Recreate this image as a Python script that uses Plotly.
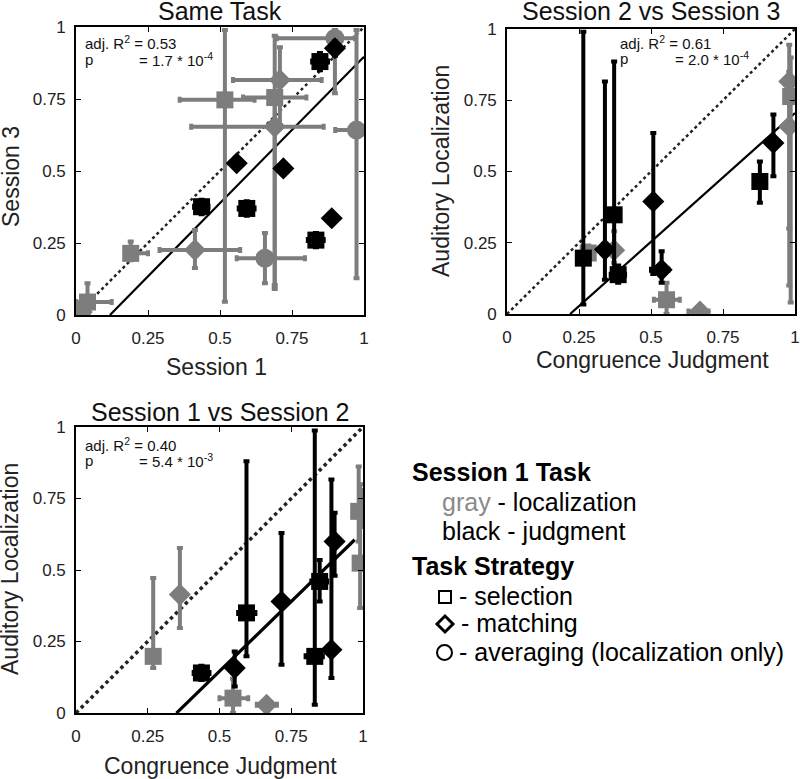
import plotly.graph_objects as go

W, H = 800, 779
GRAY = "#7d7d7d"
BLACK = "#000000"

# ---------------- Panel 1: Same Task (x = Session 1, y = Session 3) ----------------
p1_gray_sym = ["circle", "diamond", "square", "square", "diamond", "square", "square", "diamond", "diamond", "circle", "circle", "circle"]
p1_gray_x   = [0.00, 0.02, 0.04, 0.19, 0.413, 0.517, 0.69, 0.708, 0.69, 0.899, 0.974, 0.656]
p1_gray_y   = [0.01, 0.01, 0.045, 0.214, 0.226, 0.747, 0.755, 0.816, 0.654, 0.961, 0.642, 0.197]
p1_gray_xlo = [0.00, 0.02, 0.00, 0.17, 0.29, 0.36, 0.58, 0.545, 0.40, 0.697, 0.90, 0.558]
p1_gray_xhi = [0.00, 0.02, 0.124, 0.25, 0.57, 0.62, 0.80, 0.853, 0.86, 0.969, 1.00, 0.795]
p1_gray_ylo = [0.01, 0.01, 0.00, 0.19, 0.163, 0.046, 0.104, 0.66, 0.09, 0.77, 0.128, 0.11]
p1_gray_yhi = [0.01, 0.01, 0.11, 0.255, 0.295, 0.99, 0.97, 0.93, 0.76, 0.99, 0.99, 0.285]

p1_black_sym = ["square", "diamond", "diamond", "diamond", "square", "square", "diamond", "square"]
p1_black_x   = [0.847, 0.899, 0.558, 0.72, 0.436, 0.593, 0.888, 0.833]
p1_black_y   = [0.88, 0.926, 0.527, 0.509, 0.376, 0.37, 0.336, 0.26]
p1_black_xlo = [0.82, 0.899, 0.558, 0.72, 0.41, 0.565, 0.888, 0.805]
p1_black_xhi = [0.875, 0.899, 0.558, 0.72, 0.46, 0.62, 0.888, 0.86]
p1_black_ylo = [0.85, 0.90, 0.527, 0.509, 0.35, 0.345, 0.336, 0.235]
p1_black_yhi = [0.91, 0.95, 0.527, 0.509, 0.40, 0.395, 0.336, 0.285]

# ---------------- Panel 2: Session 2 vs Session 3 ----------------
p2_gray_sym = ["square", "diamond", "square", "diamond", "diamond", "square", "diamond"]
p2_gray_x   = [0.282, 0.372, 0.554, 0.67, 0.98, 0.985, 0.98]
p2_gray_y   = [0.214, 0.224, 0.05, 0.009, 0.816, 0.763, 0.658]
p2_gray_xlo = [0.282, 0.372, 0.51, 0.63, 0.98, 0.985, 0.98]
p2_gray_xhi = [0.282, 0.372, 0.60, 0.70, 0.98, 0.985, 0.98]
p2_gray_ylo = [0.19, 0.18, 0.00, 0.00, 0.10, 0.04, 0.30]
p2_gray_yhi = [0.24, 0.29, 0.11, 0.02, 0.945, 0.90, 0.85]

p2_black_sym = ["square", "diamond", "square", "square", "diamond", "diamond", "square", "diamond"]
p2_black_x   = [0.265, 0.34, 0.372, 0.386, 0.508, 0.537, 0.878, 0.925]
p2_black_y   = [0.196, 0.226, 0.348, 0.138, 0.395, 0.155, 0.465, 0.60]
p2_black_xlo = [0.265, 0.34, 0.372, 0.36, 0.508, 0.50, 0.878, 0.925]
p2_black_xhi = [0.265, 0.34, 0.372, 0.41, 0.508, 0.56, 0.878, 0.925]
p2_black_ylo = [0.033, 0.12, 0.14, 0.11, 0.14, 0.11, 0.39, 0.483]
p2_black_yhi = [0.99, 0.816, 0.886, 0.17, 0.635, 0.22, 0.535, 0.70]

# ---------------- Panel 3: Session 1 vs Session 2 ----------------
p3_gray_sym = ["square", "diamond", "square", "diamond", "square", "diamond", "square"]
p3_gray_x   = [0.269, 0.362, 0.547, 0.664, 0.985, 0.995, 0.99]
p3_gray_y   = [0.198, 0.414, 0.052, 0.029, 0.705, 0.705, 0.524]
p3_gray_xlo = [0.269, 0.362, 0.50, 0.63, 0.985, 0.995, 0.99]
p3_gray_xhi = [0.269, 0.362, 0.60, 0.70, 0.985, 0.995, 0.99]
p3_gray_ylo = [0.157, 0.297, 0.00, 0.00, 0.60, 0.65, 0.367]
p3_gray_yhi = [0.472, 0.577, 0.12, 0.04, 0.862, 0.78, 0.80]

p3_black_sym = ["square", "diamond", "square", "diamond", "square", "square", "diamond", "diamond"]
p3_black_x   = [0.437, 0.553, 0.594, 0.716, 0.832, 0.849, 0.89, 0.901]
p3_black_y   = [0.14, 0.157, 0.35, 0.39, 0.198, 0.46, 0.221, 0.60]
p3_black_xlo = [0.41, 0.553, 0.565, 0.716, 0.80, 0.82, 0.89, 0.901]
p3_black_xhi = [0.465, 0.553, 0.625, 0.716, 0.86, 0.875, 0.89, 0.901]
p3_black_ylo = [0.115, 0.093, 0.198, 0.169, 0.029, 0.39, 0.122, 0.48]
p3_black_yhi = [0.165, 0.215, 0.88, 0.629, 0.988, 0.535, 0.816, 0.70]

# regression fits: slope, intercept, x-start, x-end
fit_slope = [1.017, 0.903, 0.976]
fit_intercept = [-0.120, -0.198, -0.342]
fit_xrange = [(0.118, 1.0), (0.219, 1.0), (0.35, 0.971)]

stats_r2 = ["0.53", "0.61", "0.40"]
stats_p = ["1.7 * 10<sup>-4</sup>", "2.0 * 10<sup>-4</sup>", "5.4 * 10<sup>-3</sup>"]
panel_titles = ["Same Task", "Session 2 vs Session 3", "Session 1 vs Session 2"]
x_titles = ["Session 1", "Congruence Judgment", "Congruence Judgment"]
y_titles = ["Session 3", "Auditory Localization", "Auditory Localization"]
tick_vals = [0, 0.25, 0.5, 0.75, 1]
tick_text = ["0", "0.25", "0.5", "0.75", "1"]

# ---------------- layout geometry (pixels) ----------------
boxes = [(76, 364, 27, 315), (507, 795, 29, 314), (76, 363, 427, 713)]  # x0, x1, ytop, ybottom


def fx(px):
    return px / W


def fy(py):
    return 1 - py / H


fig = go.Figure()
axes = [("x", "y"), ("x2", "y2"), ("x3", "y3")]
line_w = [(2.5, 2.2), (2.5, 2.2), (3.5, 3.2)]

for i, (xa, ya) in enumerate(axes):
    # identity line
    fig.add_trace(go.Scatter(x=[0, 1], y=[0, 1], mode="lines", xaxis=xa, yaxis=ya,
                             line=dict(color="#222", width=line_w[i][0], dash="dot"),
                             showlegend=False, hoverinfo="skip"))
    xs = list(fit_xrange[i])
    ys = [fit_slope[i] * v + fit_intercept[i] for v in xs]
    fig.add_trace(go.Scatter(x=xs, y=ys, mode="lines", xaxis=xa, yaxis=ya,
                             line=dict(color="#000", width=line_w[i][1]),
                             showlegend=False, hoverinfo="skip"))

panels = [
    [(p1_gray_sym, p1_gray_x, p1_gray_y, p1_gray_xlo, p1_gray_xhi, p1_gray_ylo, p1_gray_yhi, GRAY),
     (p1_black_sym, p1_black_x, p1_black_y, p1_black_xlo, p1_black_xhi, p1_black_ylo, p1_black_yhi, BLACK)],
    [(p2_gray_sym, p2_gray_x, p2_gray_y, p2_gray_xlo, p2_gray_xhi, p2_gray_ylo, p2_gray_yhi, GRAY),
     (p2_black_sym, p2_black_x, p2_black_y, p2_black_xlo, p2_black_xhi, p2_black_ylo, p2_black_yhi, BLACK)],
    [(p3_gray_sym, p3_gray_x, p3_gray_y, p3_gray_xlo, p3_gray_xhi, p3_gray_ylo, p3_gray_yhi, GRAY),
     (p3_black_sym, p3_black_x, p3_black_y, p3_black_xlo, p3_black_xhi, p3_black_ylo, p3_black_yhi, BLACK)],
]

size_for = {"square": 17, "diamond": 17, "circle": 19}

for i, (xa, ya) in enumerate(axes):
    for sym, x, y, xlo, xhi, ylo, yhi, col in panels[i]:
        fig.add_trace(go.Scatter(
            x=x, y=y, mode="markers", xaxis=xa, yaxis=ya, showlegend=False,
            marker=dict(symbol=sym, size=[size_for[s] for s in sym], color=col,
                        opacity=1, line=dict(width=0)),
            error_x=dict(type="data", symmetric=False,
                         array=[h - v for h, v in zip(xhi, x)],
                         arrayminus=[v - l for v, l in zip(x, xlo)],
                         color=col, thickness=4, width=3),
            error_y=dict(type="data", symmetric=False,
                         array=[h - v for h, v in zip(yhi, y)],
                         arrayminus=[v - l for v, l in zip(y, ylo)],
                         color=col, thickness=4, width=3),
            cliponaxis=True,
        ))

FONT = "Arial, Liberation Sans, sans-serif"
axis_common = dict(range=[0, 1], showline=True, mirror="ticks", linecolor="#000", linewidth=1.6,
                   ticks="inside", ticklen=5, tickwidth=1.2, tickcolor="#000",
                   showgrid=False, zeroline=False, tickvals=tick_vals, ticktext=tick_text,
                   tickfont=dict(family=FONT, size=17, color="#222"), fixedrange=True,
                   automargin=False, ticklabeloverflow="allow")

layout = dict(width=W, height=H, margin=dict(l=0, r=0, t=0, b=0, autoexpand=False),
              paper_bgcolor="white", plot_bgcolor="white", showlegend=False)
for i, (x0, x1, yt, yb) in enumerate(boxes):
    sfx = "" if i == 0 else str(i + 1)
    layout["xaxis" + sfx] = dict(axis_common, domain=[fx(x0), fx(x1)], anchor="y" + sfx,
                                 ticklabelstandoff=7)
    layout["yaxis" + sfx] = dict(axis_common, domain=[fy(yb), fy(yt)], anchor="x" + sfx,
                                 ticklabelstandoff=5)
fig.update_layout(**layout)

ann = []


def text(px, py, s, size, xanchor="center", angle=0, color="#111", bold=False):
    if bold:
        s = "<b>" + s + "</b>"
    ann.append(dict(x=fx(px), y=fy(py), xref="paper", yref="paper", text=s, showarrow=False,
                    xanchor=xanchor, yanchor="middle", textangle=angle,
                    font=dict(family=FONT, size=size, color=color)))


# panel titles
title_pos = [(220, 11), (651, 11), (220, 412)]
for (px, py), t in zip(title_pos, panel_titles):
    text(px, py, t, 25)

# axis titles
xt_pos = [(216, 367), (652, 360), (220, 766)]
for (px, py), t in zip(xt_pos, x_titles):
    text(px, py, t, 23, color="#222")
yt_pos = [(11, 177), (441, 171), (10, 569)]
for (px, py), t in zip(yt_pos, y_titles):
    text(px, py, t, 23, angle=-90, color="#222")

# stats text
stat_pos = [(83, 43, 137), (618, 42, 673), (83, 444, 137)]
for (px, py, peq), r2, pv in zip(stat_pos, stats_r2, stats_p):
    text(px, py, "adj. R<sup>2</sup> = " + r2, 15, xanchor="left")
    text(px, py + 16, "p", 15, xanchor="left")
    text(peq, py + 16, "= " + pv, 15, xanchor="left")

# legend-like description
text(410, 472, "Session 1 Task", 25, xanchor="left", bold=True, color="#000")
text(440, 502, "<span style='color:#8a8a8a'>gray</span> - localization", 25, xanchor="left", color="#000")
text(440, 531, "black - judgment", 25, xanchor="left", color="#000")
text(410, 566, "Task Strategy", 25, xanchor="left", bold=True, color="#000")
text(457, 596, "- selection", 25, xanchor="left", color="#000")
text(459, 623, "- matching", 25, xanchor="left", color="#000")
text(457, 652, "- averaging (localization only)", 25, xanchor="left", color="#000")

fig.update_layout(annotations=ann)

shapes = [
    dict(type="rect", xref="paper", yref="paper", x0=fx(439), x1=fx(451), y0=fy(603), y1=fy(591),
         line=dict(color="#000", width=2)),
    dict(type="path", xref="paper", yref="paper",
         path="M {} {} L {} {} L {} {} L {} {} Z".format(fx(437), fy(624), fx(445), fy(616),
                                                         fx(453), fy(624), fx(445), fy(632)),
         line=dict(color="#000", width=3)),
    dict(type="circle", xref="paper", yref="paper", x0=fx(437), x1=fx(452), y0=fy(660), y1=fy(645),
         line=dict(color="#000", width=2)),
]
fig.update_layout(shapes=shapes)

fig.write_html("out.html", config={"displayModeBar": False},
               post_script="document.body.style.margin='0px';document.body.style.overflow='hidden';")
